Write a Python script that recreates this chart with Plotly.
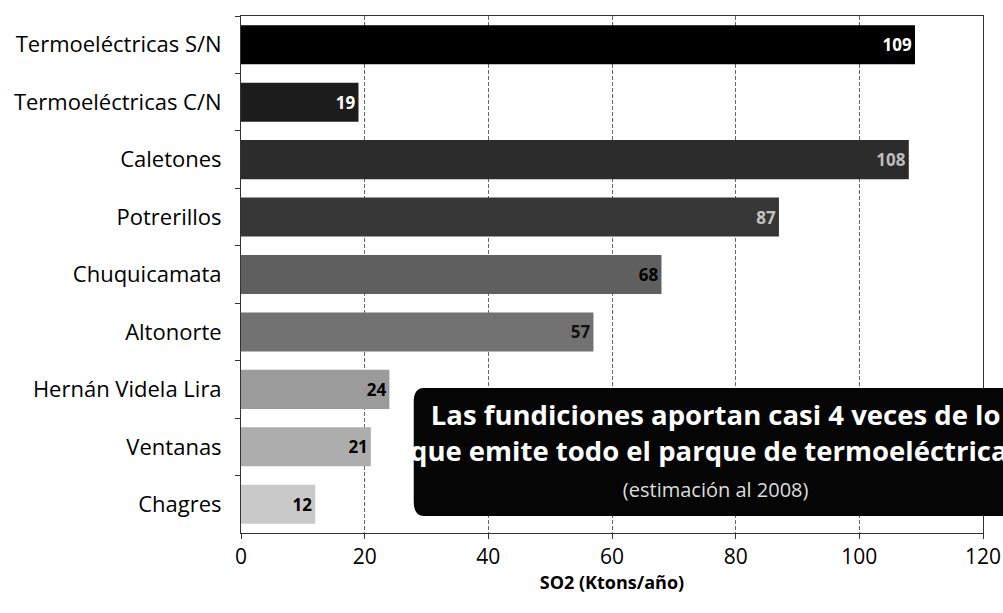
import plotly.graph_objects as go

# Data
categorias = ['Termoeléctricas S/N', 'Termoeléctricas C/N', 'Caletones', 'Potrerillos',
              'Chuquicamata', 'Altonorte', 'Hernán Videla Lira', 'Ventanas', 'Chagres']
so2 = [109, 19, 108, 87, 68, 57, 24, 21, 12]
colores = ['#000000', '#1c1c1c', '#2c2c2c', '#373737', '#5f5f5f',
           '#727272', '#9b9b9b', '#adadad', '#c9c9c9']
colores_texto = ['#ffffff', '#ffffff', '#bdbdbd', '#c4c4c4', '#000000',
                 '#111111', '#000000', '#000000', '#000000']

fuente = '"Open Sans", sans-serif'

fig = go.Figure()

fig.add_trace(go.Bar(
    x=so2, y=categorias, orientation='h',
    marker=dict(color=colores, line=dict(width=0)),
    text=[str(v) for v in so2],
    textposition='inside', insidetextanchor='end',
    textfont=dict(family=fuente, size=17, color=colores_texto, weight='bold'),
    cliponaxis=False,
))

# Recuadro negro redondeado (se sale por la derecha como en el original)
fig.add_shape(
    type='path', xref='paper', yref='paper', layer='above',
    path='M 0.2465,0.2805 L 1.05,0.2805 L 1.05,0.0330 '
         'L 0.2465,0.0330 Q 0.2328,0.0330 0.2328,0.0600 L 0.2328,0.2535 '
         'Q 0.2328,0.2805 0.2465,0.2805 Z',
    fillcolor='#050505', line=dict(width=0),
)

fig.add_annotation(
    xref='paper', yref='paper', x=0.639, y=0.268, xanchor='center', yanchor='top',
    showarrow=False, align='center',
    text='<b>Las fundiciones aportan casi 4 veces de lo<br>'
         'que emite todo el parque de termoeléctricas</b><br>'
         '<span style="color:#dddddd;font-size:20px">(estimación al 2008)</span>',
    font=dict(family=fuente, size=27.5, color='#ffffff'),
)

fig.update_layout(
    width=1003, height=613,
    margin=dict(l=241, r=20, t=16, b=80),
    paper_bgcolor='white', plot_bgcolor='white',
    bargap=0.32, showlegend=False,
    font=dict(family=fuente, size=21, color='#000000'),
    xaxis=dict(
        range=[0, 120], dtick=20, tick0=0, automargin=False,
        showgrid=True, gridcolor='#666666', griddash='4px,2px', gridwidth=1,
        showline=True, linecolor='#333333', linewidth=1, mirror=True,
        ticks='outside', ticklen=5, tickcolor='#333333',
        tickfont=dict(size=21),
        title=dict(text='<b>SO2 (Ktons/año)</b>', font=dict(size=18), standoff=6),
        zeroline=False,
    ),
    yaxis=dict(
        autorange='reversed', automargin=False,
        showline=True, linecolor='#333333', linewidth=1, mirror=True,
        ticks='outside', ticklen=5, tickcolor='#333333', tickson='boundaries',
        tickfont=dict(size=22), ticklabelstandoff=14,
        showgrid=False,
    ),
)

# quitar el margen por defecto del <body> para que el gráfico ocupe toda la ventana
fig.write_html('out.html', config={'displayModeBar': False},
               post_script="document.body.style.margin='0';document.body.style.overflow='hidden';")
